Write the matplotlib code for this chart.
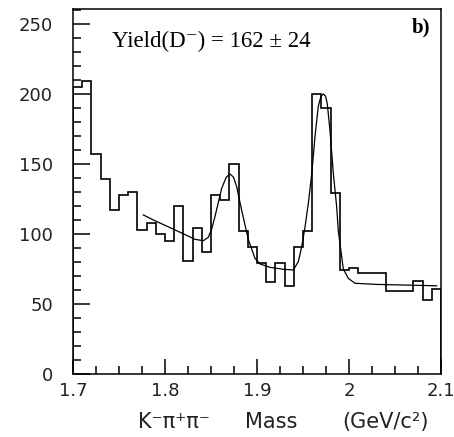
import matplotlib
matplotlib.use('Agg')
import matplotlib.pyplot as plt
from matplotlib.ticker import MultipleLocator

plt.rcParams['font.family'] = ['DejaVu Sans']

# histogram: 40 bins of 10 MeV between 1.70 and 2.10 GeV/c^2
bin_lo = 1.70
bin_width = 0.01
counts = [205, 209, 157, 139, 117, 128, 130, 103, 108, 100,
          95, 120, 81, 104, 87, 128, 124, 150, 102, 91,
          79, 66, 79, 63, 91, 102, 200, 190, 129, 74,
          75.5, 72, 72, 72, 59.5, 59.5, 59.5, 66.7, 53, 60.5]

# fit curve
fit_x = [1.7764, 1.789, 1.811, 1.8326, 1.8417, 1.847, 1.8505, 1.8543, 1.8616,
         1.8665, 1.8707, 1.8745, 1.8779, 1.8833, 1.8906, 1.8978, 1.9033, 1.9141,
         1.9286, 1.9395, 1.9449, 1.9486, 1.9522, 1.9558, 1.9595, 1.963, 1.9666,
         1.9693, 1.972, 1.9745, 1.9764, 1.9793, 1.983, 1.9866, 1.9884, 1.9938,
         1.9993, 2.0065, 2.030, 2.0953]
fit_y = [113.6, 109.5, 102.9, 96.2, 95.2, 97.6, 103.0, 112.4, 132.6,
         140.5, 142.9, 140.5, 133.8, 117.0, 96.0, 82.6, 78.6, 76.2,
         74.8, 74.3, 80.2, 91.0, 105.0, 122.0, 143.0, 169.5, 191.0,
         198.0, 200.0, 198.5, 193.0, 174.0, 143.0, 119.5, 102.0, 75.0,
         68.3, 64.8, 64.0, 63.0]

xtick_vals = [1.7, 1.8, 1.9, 2.0, 2.1]
xtick_text = ['1.7', '1.8', '1.9', '2', '2.1']
ytick_vals = [0, 50, 100, 150, 200, 250]

# x title is written in three pieces, ROOT spreads them out
xtitle_parts = ['K\u207b\u03c0\u207a\u03c0\u207b', 'Mass', '(GeV/c\u00b2)']
xtitle_left = [138, 245, 342]  # pixel columns where each piece starts

edges = [bin_lo + bin_width * i for i in range(len(counts) + 1)]

W, H = 454, 437
fig = plt.figure(figsize=(W / 100, H / 100), dpi=100)
ax = fig.add_axes([73 / W, 63 / H, 368 / W, 365 / H])

ax.stairs(counts, edges, color='black', linewidth=1.2)
ax.plot(fit_x, fit_y, color='black', linewidth=0.9)

ax.set_xlim(1.7, 2.1)
ax.set_ylim(0, 260.7)

ax.set_xticks(xtick_vals)
ax.set_xticklabels(xtick_text)
ax.set_yticks(ytick_vals)
ax.xaxis.set_minor_locator(MultipleLocator(0.025))
ax.yaxis.set_minor_locator(MultipleLocator(10))
ax.tick_params(which='both', direction='in', top=False, right=False,
               width=1.1, labelsize=13, colors='#222222')
ax.tick_params(axis='x', which='major', length=11, pad=5.5)
ax.tick_params(axis='x', which='minor', length=5.5)
ax.tick_params(axis='y', which='major', length=12.5, pad=14.5)
ax.tick_params(axis='y', which='minor', length=5.5)
ax.tick_params(which='both', color='black')

for s in ax.spines.values():
    s.set_linewidth(1.1)

for part, px in zip(xtitle_parts, xtitle_left):
    fig.text(px / W, 9 / H, part, fontsize=15, color='#222222',
             ha='left', va='baseline')

ax.text(0.105, 0.896, 'Yield(D\u207b) = 162 \u00b1 24', transform=ax.transAxes,
        family=['Liberation Serif', 'DejaVu Serif'],
        fontsize=16.5, ha='left', va='baseline')
ax.text(0.970, 0.937, 'b)', transform=ax.transAxes,
        family=['Liberation Serif', 'DejaVu Serif'], fontweight='bold',
        fontsize=15, ha='right', va='baseline')

fig.savefig('out.png', dpi=100)
